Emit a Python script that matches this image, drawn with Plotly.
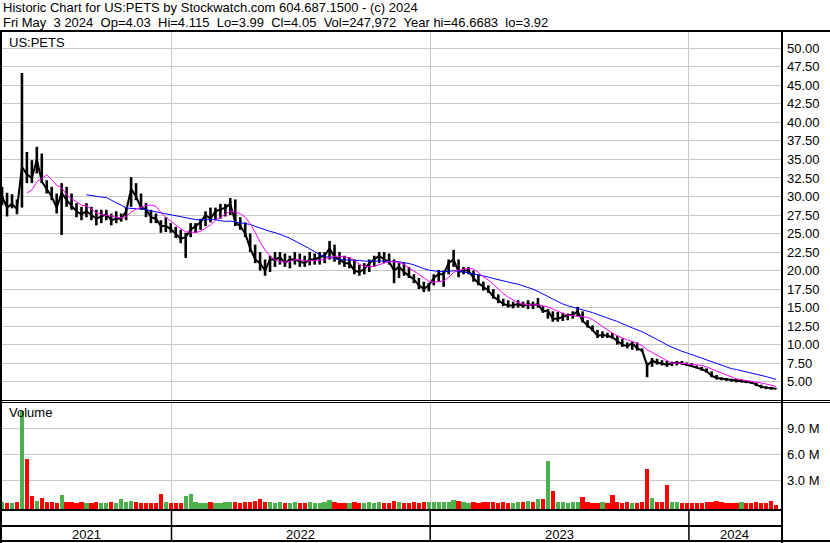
import pandas as pd
import plotly.graph_objects as go

# ---------------- data (weekly) ----------------
WEEK_END = pd.date_range("2021-05-07", periods=157, freq="7D")

HIGH = [31.3, 30.5, 30.3, 29.6, 46.67, 36.0, 34.9, 36.7, 35.8, 32.2,
        31.3, 30.4, 31.8, 31.3, 30.4, 29.1, 28.6, 29.1, 28.6, 28.2,
        28.2, 28.2, 27.7, 28.0, 27.7, 28.6, 32.6, 31.8, 30.4, 29.1,
        28.2, 27.7, 26.8, 27.2, 26.4, 25.9, 25.5, 25.1, 26.4, 26.4,
        27.0, 28.0, 28.5, 28.5, 29.0, 29.0, 29.8, 29.6, 27.2, 26.5,
        25.0, 23.5, 22.5, 21.5, 22.0, 22.5, 22.5, 22.3, 22.0, 22.5,
        22.3, 22.0, 22.5, 22.3, 22.5, 22.5, 24.0, 23.5, 22.5, 22.0,
        21.8, 21.5, 20.8, 21.0, 21.5, 22.0, 22.5, 22.5, 22.3, 21.5,
        21.0, 21.0, 20.5, 19.5, 19.0, 18.5, 18.3, 19.5, 20.1, 20.0,
        21.5, 22.8, 21.5, 20.5, 20.5, 20.0, 19.5, 18.5, 18.0, 17.5,
        16.8, 16.2, 16.0, 15.8, 16.0, 15.8, 16.0, 15.8, 16.3, 15.2,
        14.8, 14.5, 14.4, 14.3, 14.2, 14.5, 15.1, 14.5, 13.3, 12.6,
        12.0, 11.8, 11.6, 11.6, 11.2, 10.8, 10.3, 10.4, 10.3, 9.5,
        7.6, 8.2, 8.1, 7.9, 7.8, 7.7, 7.8, 7.8, 7.6, 7.5,
        7.2, 7.0, 6.8, 6.4, 5.9, 5.6, 5.5, 5.4, 5.4, 5.3,
        5.2, 5.1, 4.9, 4.6, 4.4, 4.3, 4.115]

LOW = [28.8, 27.3, 28.4, 27.6, 28.5, 31.8, 31.8, 33.1, 31.8, 30.4,
       29.5, 27.7, 24.8, 28.6, 28.2, 27.2, 26.8, 27.2, 26.8, 26.1,
       26.4, 26.8, 26.1, 26.4, 26.6, 26.8, 28.6, 29.5, 28.2, 27.2,
       26.4, 26.4, 25.1, 25.2, 25.1, 24.4, 23.7, 21.7, 24.5, 25.1,
       25.5, 26.0, 26.5, 26.8, 27.0, 27.3, 27.5, 26.0, 25.5, 24.5,
       22.5, 21.0, 20.0, 19.3, 19.8, 20.5, 20.8, 20.5, 20.3, 20.8,
       20.5, 20.5, 20.7, 20.8, 20.8, 21.0, 21.5, 21.2, 20.8, 20.5,
       20.3, 19.5, 19.3, 19.5, 19.8, 20.5, 21.0, 21.0, 20.8, 18.3,
       19.0, 19.3, 19.0, 18.3, 17.5, 17.1, 17.2, 18.0, 18.5, 17.8,
       19.5, 20.5, 19.1, 19.5, 19.5, 18.5, 18.0, 17.3, 17.0, 16.2,
       15.6, 15.2, 15.0, 14.9, 15.0, 15.0, 14.8, 14.8, 15.0, 14.3,
       13.5, 13.1, 13.1, 13.2, 13.3, 13.5, 13.8, 13.0, 12.3, 11.8,
       10.9, 10.9, 10.9, 10.8, 10.0, 9.7, 9.5, 9.3, 9.2, 9.0,
       5.6, 7.0, 7.3, 7.2, 7.0, 7.1, 7.2, 7.3, 7.1, 7.0,
       6.8, 6.5, 6.2, 5.6, 5.3, 5.2, 5.1, 5.0, 4.9, 4.9,
       4.8, 4.7, 4.4, 4.1, 4.0, 3.92, 3.99]

CLOSE = [30.0, 28.5, 29.0, 28.3, 34.0, 33.0, 32.5, 35.0, 32.0, 31.0,
         30.0, 28.5, 30.5, 29.5, 28.8, 28.0, 27.6, 28.0, 27.5, 27.0,
         27.3, 27.6, 26.8, 27.0, 27.0, 28.0, 31.0, 30.0, 28.5, 28.3,
         27.2, 27.0, 26.0, 26.0, 25.6, 25.0, 24.3, 24.5, 25.5, 26.0,
         26.5, 27.5, 27.0, 28.0, 28.2, 28.5, 29.0, 26.5, 26.0, 25.0,
         23.0, 21.5, 21.0, 20.0, 21.5, 21.5, 21.8, 21.0, 21.5, 21.5,
         21.2, 21.0, 21.5, 21.5, 21.8, 22.0, 23.0, 21.8, 21.5, 21.0,
         21.0, 20.0, 19.8, 20.2, 21.0, 21.5, 22.0, 21.5, 21.2, 20.0,
         20.5, 19.8, 19.3, 18.8, 18.0, 17.5, 18.0, 19.0, 19.5, 19.5,
         21.0, 21.5, 19.8, 20.0, 20.0, 19.0, 18.3, 17.8, 17.3, 16.5,
         16.0, 15.5, 15.3, 15.3, 15.5, 15.2, 15.5, 15.3, 15.5, 14.5,
         14.6, 13.5, 13.5, 13.8, 14.0, 14.0, 14.5, 13.2, 12.6, 12.0,
         11.2, 11.3, 11.2, 11.0, 10.5, 10.0, 9.8, 10.2, 9.5, 9.2,
         7.2, 7.8, 7.6, 7.5, 7.3, 7.5, 7.6, 7.5, 7.3, 7.1,
         7.0, 6.7, 6.4, 5.8, 5.5, 5.4, 5.3, 5.2, 5.1, 5.1,
         5.0, 4.9, 4.6, 4.3, 4.2, 4.1, 4.05]

VOLUME_M = [0.55, 0.45, 0.40, 0.50, 11.0, 5.5, 1.2, 0.7, 1.0, 0.6,
            0.5, 0.45, 1.4, 0.6, 0.5, 0.45, 0.5, 0.45, 0.4, 0.5,
            0.45, 0.4, 0.5, 0.45, 0.9, 0.5, 0.7, 0.5, 0.45, 0.4,
            0.4, 0.45, 1.5, 0.5, 0.4, 0.45, 0.4, 1.3, 1.5, 0.5,
            0.45, 0.4, 0.5, 0.45, 0.4, 0.5, 0.6, 0.5, 0.45, 0.5,
            0.6, 0.7, 0.9, 0.6, 0.5, 0.45, 0.5, 0.4, 0.45, 0.5,
            0.45, 0.4, 0.5, 0.45, 0.4, 0.5, 0.8, 0.6, 0.45, 0.4,
            0.45, 0.5, 0.45, 0.4, 0.5, 0.45, 0.5, 0.45, 0.4, 0.7,
            0.5, 0.45, 0.4, 0.5, 0.45, 0.5, 0.55, 0.5, 0.6, 0.5,
            0.6, 0.8, 0.7, 0.5, 0.45, 0.5, 0.45, 0.5, 0.6, 0.5,
            0.45, 0.5, 0.45, 0.4, 0.6, 0.5, 0.7, 0.6, 0.9, 0.9,
            5.3, 1.8, 0.6, 0.5, 0.45, 0.5, 0.6, 1.1, 0.5, 0.45,
            0.4, 0.5, 0.45, 1.4, 0.5, 0.45, 0.5, 0.4, 0.45, 0.5,
            4.4, 1.0, 0.6, 0.5, 2.5, 0.6, 0.5, 0.45, 0.4, 0.45,
            0.4, 0.45, 0.5, 0.6, 0.7, 0.5, 0.45, 0.4, 0.45, 0.5,
            0.45, 0.4, 0.5, 0.45, 0.4, 0.7, 0.25]

PRICE_TICKS = [5.0, 7.5, 10.0, 12.5, 15.0, 17.5, 20.0, 22.5, 25.0, 27.5,
               30.0, 32.5, 35.0, 37.5, 40.0, 42.5, 45.0, 47.5, 50.0]
VOLUME_TICKS = [3.0, 6.0, 9.0]
YEAR_STARTS = ["2022-01-01", "2023-01-01", "2024-01-01"]
YEAR_LABELS = ["2021", "2022", "2023", "2024"]

HEADER_1 = "Historic Chart for US:PETS by Stockwatch.com 604.687.1500 - (c) 2024"
HEADER_2 = ("Fri May\u00a0\u00a03 2024\u00a0\u00a0Op=4.03\u00a0\u00a0Hi=4.115\u00a0\u00a0Lo=3.99"
            "\u00a0\u00a0Cl=4.05\u00a0\u00a0Vol=247,972\u00a0\u00a0Year hi=46.6683\u00a0\u00a0lo=3.92")
SYMBOL = "US:PETS"

# ---------------- derived series ----------------
close_s = pd.Series(CLOSE)
ma_fast = close_s.rolling(6).mean()
ma_slow = close_s.rolling(18).mean()
prev = close_s.shift(1).fillna(close_s.iloc[0])
vol_colors = ["#4cb04c" if c >= p else "#ff0000" for c, p in zip(CLOSE, prev)]

seg_x, seg_y = [], []
for d, h, l in zip(WEEK_END, HIGH, LOW):
    seg_x += [d, d, None]
    seg_y += [l, h, None]

# ---------------- layout helpers (pixel -> paper) ----------------
W, H = 830, 543
def fx(px):
    return px / W
def fy(py):
    return 1 - py / H

PX_PER_DAY = 0.7088
ANCHOR = pd.Timestamp("2022-01-01")
ANCHOR_PX = 171.5
x_start = ANCHOR - pd.Timedelta(days=(ANCHOR_PX - 1) / PX_PER_DAY)
x_end = ANCHOR + pd.Timedelta(days=(781 - ANCHOR_PX) / PX_PER_DAY)

VOL_FLOOR = -0.37
FONT = "Liberation Sans, Arial, sans-serif"
GRID = "#c8c8c8"

fig = go.Figure()

fig.add_trace(go.Bar(x=WEEK_END, y=[v - VOL_FLOOR for v in VOLUME_M], base=VOL_FLOOR,
                     marker=dict(color=vol_colors, line=dict(width=0)),
                     width=6 * 24 * 3600 * 1000, xaxis="x2", yaxis="y2",
                     showlegend=False, hoverinfo="skip"))

fig.add_trace(go.Scatter(x=seg_x, y=seg_y, mode="lines", line=dict(color="black", width=2.6),
                         showlegend=False, hoverinfo="skip"))
fig.add_trace(go.Scatter(x=WEEK_END, y=CLOSE, mode="lines", line=dict(color="black", width=2),
                         showlegend=False))
fig.add_trace(go.Scatter(x=WEEK_END, y=ma_slow, mode="lines", line=dict(color="#0000ff", width=1),
                         showlegend=False))
fig.add_trace(go.Scatter(x=WEEK_END, y=ma_fast, mode="lines", line=dict(color="#ff00ff", width=1),
                         showlegend=False))

xcommon = dict(type="date", range=[x_start, x_end], domain=[fx(1), fx(781)],
               tickvals=YEAR_STARTS, showticklabels=False, showgrid=True,
               gridcolor=GRID, gridwidth=1, zeroline=False, showline=False, ticks="")

shapes = []
def hline(py, x0, x1, width):
    shapes.append(dict(type="line", xref="paper", yref="paper", x0=x0, x1=x1,
                       y0=fy(py), y1=fy(py), line=dict(color="black", width=width), layer="above"))
def vline(px, py0, py1, width):
    shapes.append(dict(type="line", xref="paper", yref="paper", x0=fx(px), x1=fx(px),
                       y0=fy(py0), y1=fy(py1), line=dict(color="black", width=width), layer="above"))

hline(31, 0, 1, 2)
hline(400.5, 0, 1, 1)
hline(402.5, 0, 1, 1)
hline(510, 0, fx(782), 2)
hline(526, 0, fx(782), 2)
hline(541, 0, 1, 2)
vline(1, 30, 543, 2)
vline(782, 30, 543, 2)
for ys in YEAR_STARTS:
    shapes.append(dict(type="line", xref="x", yref="paper", x0=ys, x1=ys,
                       y0=fy(510), y1=fy(541), line=dict(color="black", width=1.5), layer="above"))

annotations = [
    dict(text=HEADER_1, x=fx(1), y=fy(8), xref="paper", yref="paper", xanchor="left",
         yanchor="middle", showarrow=False, font=dict(family=FONT, size=13, color="black")),
    dict(text=HEADER_2, x=fx(1), y=fy(22), xref="paper", yref="paper", xanchor="left",
         yanchor="middle", showarrow=False, font=dict(family=FONT, size=13, color="black")),
    dict(text=SYMBOL, x=fx(7), y=fy(42), xref="paper", yref="paper", xanchor="left",
         yanchor="middle", showarrow=False, font=dict(family=FONT, size=13, color="black")),
    dict(text="Volume", x=fx(7), y=fy(413), xref="paper", yref="paper", xanchor="left",
         yanchor="middle", showarrow=False, font=dict(family=FONT, size=13, color="black")),
]
bounds = [x_start] + [pd.Timestamp(y) for y in YEAR_STARTS] + [x_end]
for lab, a, b in zip(YEAR_LABELS, bounds[:-1], bounds[1:]):
    annotations.append(dict(text=lab, x=a + (b - a) / 2, y=fy(534), xref="x", yref="paper",
                            xanchor="center", yanchor="middle", showarrow=False,
                            font=dict(family=FONT, size=13, color="black")))

fig.update_layout(
    width=W, height=H, autosize=False, template="none",
    margin=dict(l=0, r=0, t=0, b=0, pad=0),
    paper_bgcolor="white", plot_bgcolor="white", showlegend=False,
    font=dict(family=FONT, size=13, color="black"),
    bargap=0,
    xaxis=dict(anchor="y", **xcommon),
    xaxis2=dict(anchor="y2", matches="x", **xcommon),
    yaxis=dict(domain=[fy(400), fy(32)], range=[2.53, 52.2], side="right", anchor="x",
               tickvals=PRICE_TICKS, ticktext=[f"{v:.2f}" for v in PRICE_TICKS],
               showgrid=True, gridcolor=GRID, gridwidth=1, zeroline=False, showline=False,
               ticks="", ticklabelstandoff=5, tickfont=dict(family=FONT, size=13, color="black"),
               automargin=False),
    yaxis2=dict(domain=[fy(509.5), fy(402.5)], range=[VOL_FLOOR, 11.98], side="right", anchor="x2",
                tickvals=VOLUME_TICKS, ticktext=[f"{v:.1f} M" for v in VOLUME_TICKS],
                showgrid=True, gridcolor=GRID, gridwidth=1, zeroline=False, showline=False,
                ticks="", ticklabelstandoff=5, tickfont=dict(family=FONT, size=13, color="black"),
                automargin=False),
    shapes=shapes, annotations=annotations,
)

fig.write_html("out.html", config={"displayModeBar": False},
               post_script="document.body.style.margin='0';document.body.style.overflow='hidden';")
